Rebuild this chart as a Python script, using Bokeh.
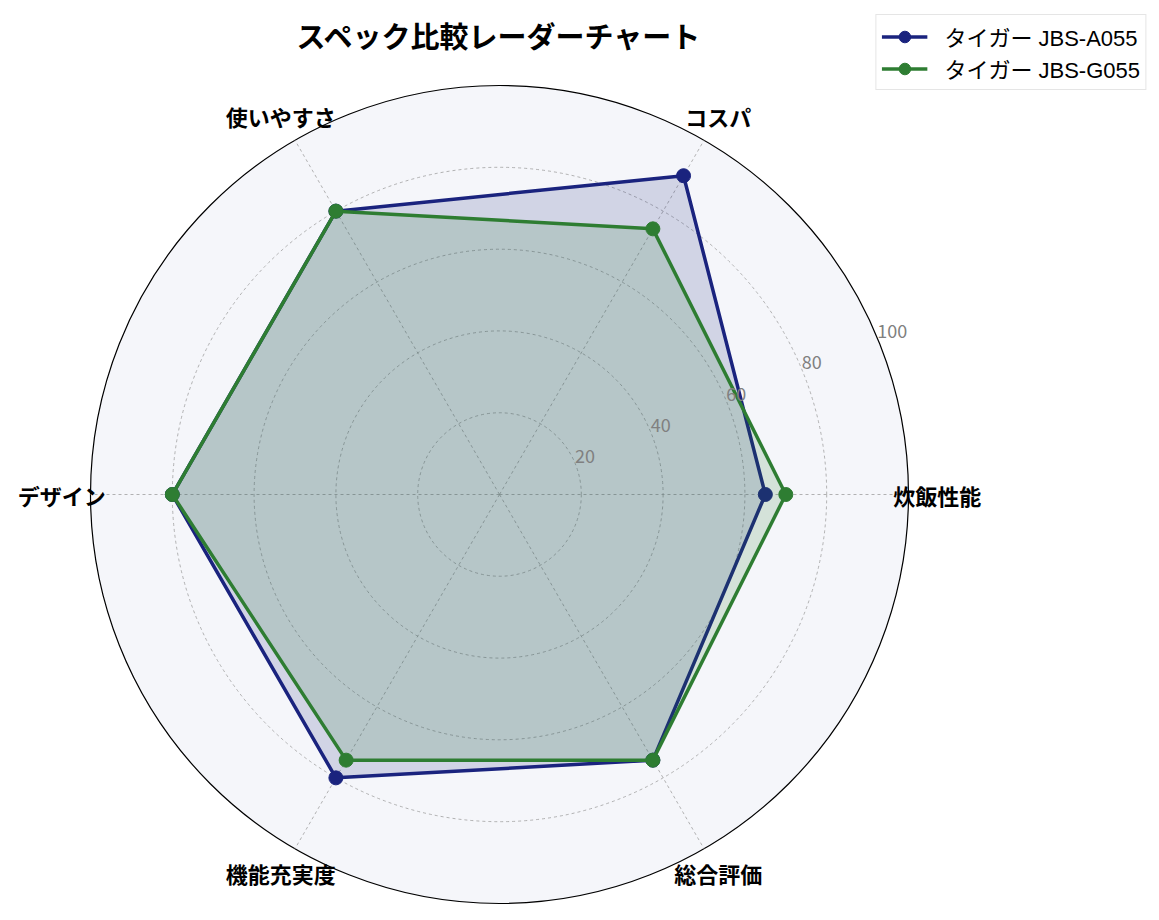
import numpy as np
from bokeh.plotting import figure
from bokeh.models import Range1d, Legend, LegendItem
from bokeh.core.properties import value
from bokeh.embed import file_html
from bokeh.resources import INLINE

# ---------------------------------------------------------------- data
categories = ["炊飯性能", "コスパ", "使いやすさ", "デザイン", "機能充実度", "総合評価"]
series_names = ["タイガー JBS-A055", "タイガー JBS-G055"]
values_a055 = [65, 90, 80, 80, 80, 75]
values_g055 = [70, 75, 80, 80, 75, 75]
ring_ticks = [20, 40, 60, 80, 100]
ring_labels = ["20", "40", "60", "80", "100"]
title_text = "スペック比較レーダーチャート"

colors = ["#1a237e", "#2e7d32"]
JP = "Noto Sans CJK JP"
LEG_FONT = "'Liberation Sans', 'Noto Sans CJK JP'"

# ---------------------------------------------------------------- geometry
PX = 4.09          # pixels per radial unit
CX, CY = 499, 494  # centre of the polar area on the page
W, H = 1151, 912
TOP = 9            # frame starts this far below the figure top

n = len(categories)
theta = np.arange(n) * 2 * np.pi / n

p = figure(
    width=W, height=H,
    x_range=Range1d(-CX / PX, (W - CX) / PX),
    y_range=Range1d((CY - H) / PX, (CY - TOP) / PX),
    output_backend="svg", toolbar_location=None, tools="",
    min_border=0, min_border_top=TOP,
)
p.axis.visible = False
p.grid.visible = False
p.outline_line_color = None
p.background_fill_color = "white"
p.border_fill_color = "white"

# polar background + outer spine
p.circle(x=[0], y=[0], radius=ring_ticks[-1], fill_color="#f5f6fa",
         line_color="black", line_width=1.2)

# dashed rings
p.circle(x=[0] * (len(ring_ticks) - 1), y=[0] * (len(ring_ticks) - 1),
         radius=ring_ticks[:-1], fill_color=None,
         line_color="#a0a0a0", line_width=0.8, line_dash="3 3")

# dashed spokes
p.segment(x0=[0] * n, y0=[0] * n,
          x1=list(ring_ticks[-1] * np.cos(theta)),
          y1=list(ring_ticks[-1] * np.sin(theta)),
          line_color="#a0a0a0", line_width=0.8, line_dash="3 3")

# ---------------------------------------------------------------- series
items = []
for name, vals, col in zip(series_names, [values_a055, values_g055], colors):
    v = np.array(vals, dtype=float)
    xs = v * np.cos(theta)
    ys = v * np.sin(theta)
    xc = list(xs) + [xs[0]]
    yc = list(ys) + [ys[0]]
    p.patch(xc, yc, fill_color=col, fill_alpha=0.16, line_color=None)
    ln = p.line(xc, yc, line_color=col, line_width=3.5)
    sc = p.scatter(list(xs), list(ys), size=14, fill_color=col, line_color=col)
    items.append(LegendItem(label=name, renderers=[ln, sc]))

# ---------------------------------------------------------------- texts
# radial tick labels at 22.5 degrees
ang = np.deg2rad(22.5)
rt = np.array(ring_ticks, dtype=float)
p.text(x=list(rt * np.cos(ang)), y=list(rt * np.sin(ang)), text=ring_labels,
       text_font=value(JP), text_font_size="18px", text_color="#808080",
       text_align="left", text_baseline="bottom")

# category labels
lbl_r = 107
p.text(x=list(lbl_r * np.cos(theta)), y=list(lbl_r * np.sin(theta)), text=categories,
       text_font=value(JP), text_font_size="22px", text_font_style="bold",
       text_color="black", text_align="center", text_baseline="middle")

# title
p.text(x=[0], y=[(CY - 34) / PX], text=[title_text],
       text_font=value(JP), text_font_size="29px", text_font_style="bold",
       text_color="black", text_align="center", text_baseline="middle")

# ---------------------------------------------------------------- legend
legend = Legend(
    items=items, location="top_right", margin=5,
    padding=5, spacing=0, label_standoff=17,
    glyph_width=46, glyph_height=29, label_height=29,
    label_text_font=LEG_FONT, label_text_font_size="22px",
    label_text_color="black",
    border_line_color="#cccccc", border_line_width=1.5,
    background_fill_color="white", background_fill_alpha=0.9,
)
p.add_layout(legend)

open("out.html", "w").write(file_html(p, INLINE))
